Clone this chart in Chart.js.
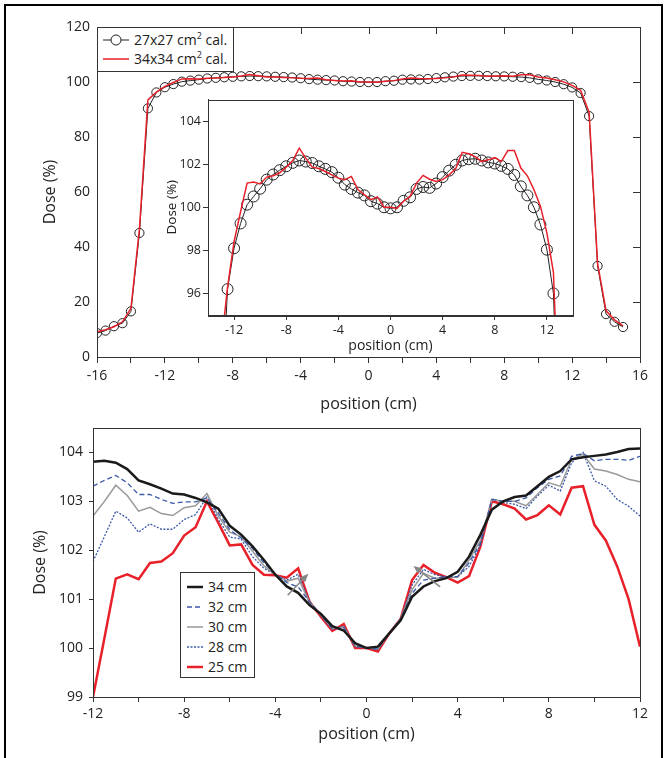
<!DOCTYPE html>
<html>
<head>
<meta charset="utf-8">
<script src="https://cdn.jsdelivr.net/npm/chart.js@4.4.0/dist/chart.umd.min.js"></script>
<style>
  body { margin: 0; background: #fff; font-family: 'Open Sans', sans-serif; color: #222; }
  #page { position: relative; width: 667px; height: 758px; overflow: hidden; }
  #frame { position: absolute; left: 4px; top: 4px; width: 659px; height: 800px; box-sizing: border-box; border: 2px solid #000; }
  canvas { position: absolute; }
  #topChart { left: 0; top: 0; }
  #insetChart { left: 150px; top: 90px; }
  #bottomChart { left: 0; top: 410px; }
  .legend { position: absolute; box-sizing: border-box; border: 1.5px solid #333; background: #fff; font-size: 14px; z-index: 5; }
  .legend .row { position: absolute; height: 20px; line-height: 20px; white-space: nowrap; }
  .legend sup { font-size: 9px; vertical-align: 6px; line-height: 0; }
  .legend svg { position: absolute; top: 0; }
  #topLegend { left: 97px; top: 27px; width: 137px; height: 45px; }
  #bottomLegend { left: 180px; top: 572px; width: 75px; height: 106px; }
</style>
</head>
<body>
<div id="page">
  <div id="frame"></div>
  <canvas id="topChart" width="667" height="420"></canvas>
  <canvas id="insetChart" width="440" height="270"></canvas>
  <canvas id="bottomChart" width="667" height="348"></canvas>

  <div class="legend" id="topLegend">
    <div class="row" style="top:2px;left:4px;">
      <svg width="28" height="20"><line x1="1" y1="10" x2="27" y2="10" stroke="#222" stroke-width="1"/><circle cx="14" cy="10" r="5" fill="#fff" stroke="#222" stroke-width="1"/></svg>
      <span style="padding-left:32px;">27x27 cm<sup>2</sup> cal.</span>
    </div>
    <div class="row" style="top:21px;left:4px;">
      <svg width="28" height="20"><line x1="1" y1="10" x2="27" y2="10" stroke="#e8202a" stroke-width="1.5"/></svg>
      <span style="padding-left:32px;">34x34 cm<sup>2</sup> cal.</span>
    </div>
  </div>

  <div class="legend" id="bottomLegend">
    <div class="row" style="top:4px;left:5px;"><svg width="18" height="20"><line x1="1" y1="10" x2="17" y2="10" stroke="#1a1a1a" stroke-width="2.5"/></svg><span style="padding-left:22px;">34 cm</span></div>
    <div class="row" style="top:24px;left:5px;"><svg width="18" height="20"><line x1="1" y1="10" x2="17" y2="10" stroke="#3a5aa8" stroke-width="1.3" stroke-dasharray="5,3"/></svg><span style="padding-left:22px;">32 cm</span></div>
    <div class="row" style="top:44px;left:5px;"><svg width="18" height="20"><line x1="1" y1="10" x2="17" y2="10" stroke="#999" stroke-width="1.5"/></svg><span style="padding-left:22px;">30 cm</span></div>
    <div class="row" style="top:64px;left:5px;"><svg width="18" height="20"><line x1="1" y1="10" x2="17" y2="10" stroke="#3a5aa8" stroke-width="1.3" stroke-dasharray="2,1.5"/></svg><span style="padding-left:22px;">28 cm</span></div>
    <div class="row" style="top:84px;left:5px;"><svg width="18" height="20"><line x1="1" y1="10" x2="17" y2="10" stroke="#e8202a" stroke-width="2.5"/></svg><span style="padding-left:22px;">25 cm</span></div>
  </div>
</div>

<script>
// ---- top panel data: 27x27 vs 34x34 calibration ----
const topPositions = [-16, -15.5, -15, -14.5, -14, -13.5, -13, -12.5, -12, -11.5, -11, -10.5, -10, -9.5, -9, -8.5,
  -8, -7.5, -7, -6.5, -6, -5.5, -5, -4.5, -4, -3.5, -3, -2.5, -2, -1.5, -1, -0.5,
  0, 0.5, 1, 1.5, 2, 2.5, 3, 3.5, 4, 4.5, 5, 5.5, 6, 6.5, 7, 7.5,
  8, 8.5, 9, 9.5, 10, 10.5, 11, 11.5, 12, 12.5, 13, 13.5, 14, 14.5, 15];
const dose27 = [8.7, 9.6, 11.2, 12.3, 16.6, 45.1, 90.4, 96.2, 98.1, 99.25, 100.12, 100.5, 100.86, 101.28, 101.52, 101.72,
  101.9, 102.06, 102.17, 102.12, 102.05, 101.9, 101.78, 101.63, 101.37, 101.05, 100.85, 100.68, 100.55, 100.28, 100.17, 100.0,
  99.95, 100.0, 100.3, 100.46, 100.85, 100.94, 100.9, 101.1, 101.4, 101.7, 101.97, 102.17, 102.23, 102.25, 102.17, 102.08,
  102.03, 101.92, 101.78, 101.5, 100.97, 100.55, 100.0, 99.2, 98.03, 96.0, 87.6, 33.1, 15.6, 12.8, 10.9];
const dose34 = [9.2, 9.9, 11.0, 12.8, 17.7, 46.5, 93.5, 96.3, 98.4, 99.8, 101.12, 101.17, 101.08, 101.4, 101.46, 101.6,
  101.86, 102.17, 102.74, 102.28, 101.86, 101.8, 101.66, 101.5, 101.35, 101.28, 101.43, 100.82, 100.58, 100.35, 100.48, 100.0,
  100.0, 99.94, 100.28, 100.5, 101.12, 101.48, 101.3, 101.2, 101.28, 101.5, 101.78, 102.55, 102.48, 102.35, 102.12, 102.2,
  102.3, 102.12, 102.63, 102.63, 101.82, 101.46, 100.82, 100.05, 98.8, 96.97, 89.0, 34.0, 16.8, 13.5, 11.3];
const topXTicks = [-16, -14, -12, -10, -8, -6, -4, -2, 0, 2, 4, 6, 8, 10, 12, 14, 16];
const topYTicks = [0, 20, 40, 60, 80, 100, 120];
const topInnerXTicks = [-12, -8, -4, 0, 4, 8, 12];
const topInnerYTicks = [20, 40, 60, 80, 100];
const insetXTicks = [-12, -8, -4, 0, 4, 8, 12];
const insetYTicks = [96, 98, 100, 102, 104];

// ---- bottom panel data: phantom sizes ----
const depthPositions = [-12, -11.5, -11, -10.5, -10, -9.5, -9, -8.5, -8, -7.5, -7, -6.5, -6, -5.5, -5, -4.5,
  -4, -3.5, -3, -2.5, -2, -1.5, -1, -0.5, 0, 0.5, 1, 1.5, 2, 2.5, 3, 3.5,
  4, 4.5, 5, 5.5, 6, 6.5, 7, 7.5, 8, 8.5, 9, 9.5, 10, 10.5, 11, 11.5, 12];
const dose34cm = [103.81, 103.83, 103.79, 103.66, 103.43, 103.35, 103.26, 103.16, 103.14, 103.07, 102.98, 102.85, 102.5, 102.32, 102.08, 101.8,
  101.5, 101.26, 101.13, 100.88, 100.7, 100.45, 100.36, 100.1, 100.0, 100.03, 100.3, 100.57, 101.05, 101.26, 101.37, 101.43,
  101.56, 101.87, 102.32, 102.83, 103.0, 103.09, 103.12, 103.31, 103.5, 103.62, 103.86, 103.9, 103.93, 103.96, 104.01, 104.07, 104.08];
const dose32cm = [103.31, 103.43, 103.53, 103.38, 103.14, 103.14, 103.04, 102.96, 102.99, 102.99, 103.07, 102.76, 102.42, 102.25, 102.04, 101.74,
  101.52, 101.34, 101.25, 100.95, 100.68, 100.4, 100.42, 100.05, 100.0, 99.98, 100.3, 100.6, 101.12, 101.39, 101.43, 101.46,
  101.46, 101.74, 102.15, 103.04, 103.0, 103.0, 103.07, 103.28, 103.45, 103.52, 103.92, 103.98, 103.83, 103.86, 103.86, 103.84, 103.92];
const dose30cm = [102.7, 103.0, 103.33, 103.12, 102.8, 102.88, 102.75, 102.71, 102.87, 102.91, 103.16, 102.7, 102.37, 102.28, 101.98, 101.68,
  101.5, 101.37, 101.43, 100.93, 100.68, 100.4, 100.43, 100.05, 100.0, 99.98, 100.3, 100.6, 101.19, 101.53, 101.43, 101.44,
  101.45, 101.8, 102.2, 103.04, 103.0, 103.0, 102.91, 103.14, 103.38, 103.31, 103.86, 103.96, 103.66, 103.62, 103.55, 103.45, 103.4];
const dose28cm = [101.77, 102.28, 102.8, 102.66, 102.37, 102.54, 102.43, 102.43, 102.63, 102.73, 103.09, 102.63, 102.27, 102.23, 101.87, 101.63,
  101.5, 101.39, 101.51, 100.95, 100.66, 100.38, 100.45, 100.03, 100.0, 99.97, 100.3, 100.6, 101.29, 101.61, 101.5, 101.46,
  101.46, 101.67, 102.11, 103.05, 102.98, 102.94, 102.85, 103.11, 103.33, 103.21, 103.79, 104.0, 103.42, 103.31, 103.04, 102.9, 102.7];
const dose25cm = [99.0, 100.2, 101.42, 101.51, 101.41, 101.74, 101.77, 101.94, 102.3, 102.47, 103.0, 102.56, 102.1, 102.12, 101.7, 101.5,
  101.49, 101.44, 101.63, 100.95, 100.64, 100.35, 100.49, 100.0, 100.0, 99.93, 100.3, 100.6, 101.39, 101.7, 101.54, 101.45,
  101.34, 101.47, 102.08, 103.0, 102.94, 102.85, 102.63, 102.72, 102.92, 102.73, 103.28, 103.31, 102.52, 102.2, 101.67, 101.0, 100.03];
const bottomXTicks = [-12, -10, -8, -6, -4, -2, 0, 2, 4, 6, 8, 10, 12];
const bottomYTicks = [99, 100, 101, 102, 103, 104];
// grey arrows (34 cm -> 25 cm trend)
const arrowFromX = [-3.46, 3.23];
const arrowFromY = [101.08, 101.25];
const arrowToX = [-2.55, 2.06];
const arrowToY = [101.52, 101.68];

Chart.defaults.font.family = "'Open Sans', sans-serif";
Chart.defaults.color = '#222';

function pts(xs, ys) {
  return xs.map((x, i) => ({ x: x, y: ys[i] }));
}

function setTicks(list) {
  return function (scale) { scale.ticks = list.map(v => ({ value: v })); };
}

// box round the plot, with optional inward ticks on top / right
const framePlugin = {
  id: 'frame',
  afterDatasetsDraw(chart, args, opts) {
    const { ctx, chartArea: a, scales } = chart;
    ctx.save();
    ctx.strokeStyle = '#333';
    ctx.lineWidth = 1;
    ctx.strokeRect(Math.round(a.left) + 0.5, Math.round(a.top) + 0.5, Math.round(a.right - a.left), Math.round(a.bottom - a.top));
    ctx.beginPath();
    (opts.topTicks || []).forEach(v => {
      const x = Math.round(scales.x.getPixelForValue(v)) + 0.5;
      ctx.moveTo(x, a.top);
      ctx.lineTo(x, a.top + 7);
    });
    (opts.rightTicks || []).forEach(v => {
      const y = Math.round(scales.y.getPixelForValue(v)) + 0.5;
      ctx.moveTo(a.right, y);
      ctx.lineTo(a.right - 7, y);
    });
    ctx.stroke();
    ctx.restore();
  }
};

const arrowPlugin = {
  id: 'arrows',
  afterDatasetsDraw(chart) {
    const { ctx, scales } = chart;
    ctx.save();
    ctx.strokeStyle = '#858585';
    ctx.fillStyle = '#858585';
    ctx.lineWidth = 1.5;
    for (let i = 0; i < arrowFromX.length; i++) {
      const x1 = scales.x.getPixelForValue(arrowFromX[i]);
      const y1 = scales.y.getPixelForValue(arrowFromY[i]);
      const x2 = scales.x.getPixelForValue(arrowToX[i]);
      const y2 = scales.y.getPixelForValue(arrowToY[i]);
      const ang = Math.atan2(y2 - y1, x2 - x1);
      ctx.beginPath();
      ctx.moveTo(x1, y1);
      ctx.lineTo(x2 - 6 * Math.cos(ang), y2 - 6 * Math.sin(ang));
      ctx.stroke();
      ctx.beginPath();
      ctx.moveTo(x2, y2);
      ctx.lineTo(x2 - 9 * Math.cos(ang - 0.4), y2 - 9 * Math.sin(ang - 0.4));
      ctx.lineTo(x2 - 9 * Math.cos(ang + 0.4), y2 - 9 * Math.sin(ang + 0.4));
      ctx.closePath();
      ctx.fill();
    }
    ctx.restore();
  }
};

const axisColor = '#333';

// ---------- top chart ----------
new Chart(document.getElementById('topChart'), {
  type: 'line',
  data: {
    datasets: [
      {
        label: '34x34 cm² cal.',
        data: pts(topPositions, dose34),
        borderColor: '#e8202a',
        borderWidth: 1.5,
        pointRadius: 0,
        order: 0
      },
      {
        label: '27x27 cm² cal.',
        data: pts(topPositions, dose27),
        borderColor: '#222',
        borderWidth: 1,
        pointRadius: 4.6,
        pointBorderWidth: 1,
        pointBorderColor: '#222',
        pointBackgroundColor: 'rgba(255,255,255,0)',
        order: 1
      }
    ]
  },
  options: {
    responsive: false,
    animation: false,
    devicePixelRatio: 1,
    layout: { autoPadding: false, padding: { left: 0, top: 27, right: 27, bottom: 0 } },
    plugins: { legend: { display: false }, tooltip: { enabled: false },
      frame: { topTicks: topInnerXTicks, rightTicks: topInnerYTicks } },
    scales: {
      x: {
        type: 'linear', min: -16, max: 16,
        afterBuildTicks: setTicks(topXTicks),
        afterFit: s => { s.height = 63; },
        grid: { drawOnChartArea: false, tickLength: 6, color: axisColor },
        border: { color: axisColor },
        ticks: { autoSkip: false, maxRotation: 0, padding: 5, font: { size: 14 },
          callback: v => (v % 4 === 0 ? String(v) : '') },
        title: { display: true, text: 'position (cm)', font: { size: 16 }, padding: { bottom: 6 } }
      },
      y: {
        type: 'linear', min: 0, max: 120,
        afterBuildTicks: setTicks(topYTicks),
        afterFit: s => { s.width = 97; },
        grid: { drawOnChartArea: false, drawTicks: false, color: axisColor },
        border: { color: axisColor },
        ticks: { padding: 7, font: { size: 14 } },
        title: { display: true, text: 'Dose (%)', font: { size: 16 }, padding: { top: 41 } }
      }
    }
  },
  plugins: [framePlugin]
});

// ---------- inset ----------
new Chart(document.getElementById('insetChart'), {
  type: 'line',
  data: {
    datasets: [
      {
        label: '34x34 cm² cal.',
        data: pts(topPositions, dose34),
        borderColor: '#e8202a',
        borderWidth: 1.5,
        pointRadius: 0,
        order: 0
      },
      {
        label: '27x27 cm² cal.',
        data: pts(topPositions, dose27),
        borderColor: '#222',
        borderWidth: 1,
        pointRadius: 5.5,
        pointBorderWidth: 1,
        pointBorderColor: '#222',
        pointBackgroundColor: 'rgba(255,255,255,0)',
        order: 1
      }
    ]
  },
  options: {
    responsive: false,
    animation: false,
    devicePixelRatio: 1,
    layout: { autoPadding: false, padding: { left: 0, top: 9, right: 17, bottom: 0 } },
    plugins: { legend: { display: false }, tooltip: { enabled: false }, frame: {} },
    scales: {
      x: {
        type: 'linear', min: -14, max: 14,
        afterBuildTicks: setTicks(insetXTicks),
        afterFit: s => { s.height = 45; },
        grid: { drawOnChartArea: false, tickLength: 5, color: axisColor },
        border: { color: axisColor },
        ticks: { autoSkip: false, maxRotation: 0, padding: 3, font: { size: 12.5 } },
        title: { display: true, text: 'position (cm)', font: { size: 14 }, padding: { bottom: 6 } }
      },
      y: {
        type: 'linear', min: 95, max: 105,
        afterBuildTicks: setTicks(insetYTicks),
        afterFit: s => { s.width = 58; },
        grid: { drawOnChartArea: false, tickLength: 5, color: axisColor },
        border: { color: axisColor },
        ticks: { padding: 2, font: { size: 12.5 } },
        title: { display: true, text: 'Dose (%)', font: { size: 13.5 }, padding: { top: 14 } }
      }
    }
  },
  plugins: [framePlugin]
});

// ---------- bottom chart ----------
new Chart(document.getElementById('bottomChart'), {
  type: 'line',
  data: {
    datasets: [
      { label: '34 cm', data: pts(depthPositions, dose34cm), borderColor: '#1a1a1a', borderWidth: 2.5, pointRadius: 0 },
      { label: '32 cm', data: pts(depthPositions, dose32cm), borderColor: '#3a5aa8', borderWidth: 1.3, borderDash: [5, 3], pointRadius: 0 },
      { label: '30 cm', data: pts(depthPositions, dose30cm), borderColor: '#999', borderWidth: 1.5, pointRadius: 0 },
      { label: '28 cm', data: pts(depthPositions, dose28cm), borderColor: '#3a5aa8', borderWidth: 1.3, borderDash: [2, 1.5], pointRadius: 0 },
      { label: '25 cm', data: pts(depthPositions, dose25cm), borderColor: '#e8202a', borderWidth: 2.5, pointRadius: 0 }
    ]
  },
  options: {
    responsive: false,
    animation: false,
    devicePixelRatio: 1,
    layout: { autoPadding: false, padding: { left: 0, top: 18, right: 27, bottom: 0 } },
    plugins: { legend: { display: false }, tooltip: { enabled: false }, frame: {} },
    scales: {
      x: {
        type: 'linear', min: -12, max: 12,
        afterBuildTicks: setTicks(bottomXTicks),
        afterFit: s => { s.height = 61; },
        grid: { drawOnChartArea: false, tickLength: 5, color: axisColor },
        border: { color: axisColor },
        ticks: { autoSkip: false, maxRotation: 0, padding: 4, font: { size: 14 },
          callback: v => (v % 4 === 0 ? String(v) : '') },
        title: { display: true, text: 'position (cm)', font: { size: 16 }, padding: { bottom: 14 } }
      },
      y: {
        type: 'linear', min: 99, max: 104.5,
        afterBuildTicks: setTicks(bottomYTicks),
        afterFit: s => { s.width = 93; },
        grid: { drawOnChartArea: false, tickLength: 4, color: axisColor },
        border: { color: axisColor },
        ticks: { padding: 6, font: { size: 14 } },
        title: { display: true, text: 'Dose (%)', font: { size: 16 }, padding: { top: 31 } }
      }
    }
  },
  plugins: [framePlugin, arrowPlugin]
});
</script>
</body>
</html>
